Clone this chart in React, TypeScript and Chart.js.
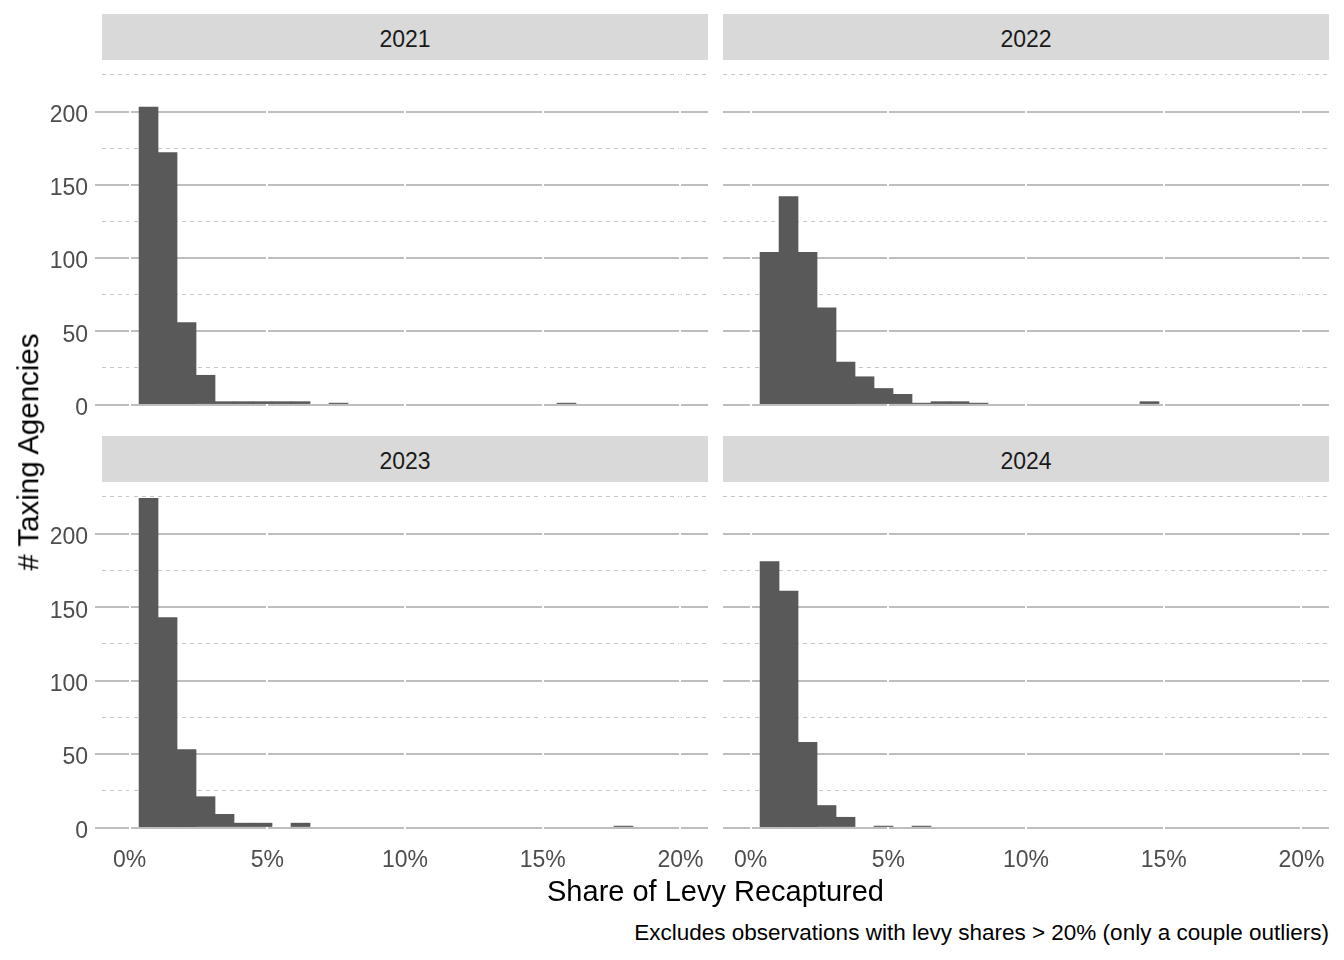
import React, { useEffect, useRef } from 'react';
import { Chart, registerables } from 'chart.js';

Chart.register(...registerables);

const FONT = '"Liberation Sans", Arial, sans-serif';
Chart.defaults.font.family = FONT;

// bin k (k = 1..28) is centred at k * BIN_WIDTH percent
const BIN_WIDTH = 20 / 29;

const YEARS = ['2021', '2022', '2023', '2024'];
const COUNTS_2021 = [203, 172, 56, 20, 2, 2, 2, 2, 2, 0, 1, 0, 0, 0, 0, 0, 0, 0, 0, 0, 0, 0, 1, 0, 0, 0, 0, 0];
const COUNTS_2022 = [104, 142, 104, 66, 29, 19, 11, 7, 1, 2, 2, 1, 0, 0, 0, 0, 0, 0, 0, 0, 2, 0, 0, 0, 0, 0, 0, 0];
const COUNTS_2023 = [224, 143, 53, 21, 9, 3, 3, 0, 3, 0, 0, 0, 0, 0, 0, 0, 0, 0, 0, 0, 0, 0, 0, 0, 0, 1, 0, 0];
const COUNTS_2024 = [181, 161, 58, 15, 7, 0, 1, 0, 1, 0, 0, 0, 0, 0, 0, 0, 0, 0, 0, 0, 0, 0, 0, 0, 0, 0, 0, 0];

const X_TICKS = [0, 5, 10, 15, 20];
const Y_TICKS = [0, 25, 50, 75, 100, 125, 150, 175, 200, 225];
const Y_LABELED = [0, 50, 100, 150, 200];

const isMajor = (c: any) => !!c.tick && Y_LABELED.includes(c.tick.value);

type PanelProps = {
  counts: number[];
  showX: boolean;
  showY: boolean;
  left: number;
  top: number;
  width: number;
  height: number;
};

const Panel = ({ counts, showX, showY, left, top, width, height }: PanelProps) => {
  const ref = useRef<HTMLCanvasElement>(null);

  useEffect(() => {
    const ctx = ref.current?.getContext('2d');
    if (!ctx) return;
    const chart = new Chart(ctx, {
      type: 'bar',
      data: {
        datasets: [{
          // empty bins stay in the data (for the bar width) but draw nothing
          data: counts.map((c, i) => ({ x: (i + 1) * BIN_WIDTH, y: c === 0 ? null : c })),
          backgroundColor: '#595959',
          borderWidth: 0,
          barPercentage: 1,
          categoryPercentage: 1,
        }],
      },
      options: {
        animation: false,
        responsive: true,
        maintainAspectRatio: false,
        layout: { padding: 0 },
        plugins: { legend: { display: false }, tooltip: { enabled: false } },
        scales: {
          x: {
            type: 'linear',
            min: -1,
            max: 21,
            offset: false,
            afterBuildTicks: (s: any) => { s.ticks = X_TICKS.map(v => ({ value: v })); },
            afterFit: (s: any) => { s.height = showX ? 36 : 0; s.paddingLeft = 0; s.paddingRight = 0; },
            // white lines on top of the y grid, below the bars
            grid: { color: '#FFFFFF', lineWidth: 2, drawTicks: false, offset: false, z: 0 },
            border: { display: false },
            ticks: {
              display: showX,
              padding: 3,
              color: '#4D4D4D',
              font: { size: 23 },
              autoSkip: false,
              maxRotation: 0,
              callback: (v: any) => `${v}%`,
            },
          },
          y: {
            min: -11.2,
            max: 235.2,
            afterBuildTicks: (s: any) => { s.ticks = Y_TICKS.map(v => ({ value: v })); },
            afterFit: (s: any) => { s.width = showY ? 72 : 0; s.paddingTop = 0; s.paddingBottom = 0; },
            grid: {
              z: -1,
              color: (c: any) => (isMajor(c) ? '#BEBEBE' : '#C6C6C6'),
              lineWidth: (c: any) => (isMajor(c) ? 2 : 1),
              drawTicks: showY,
              tickLength: 7,
              tickWidth: 2,
              tickColor: (c: any) => (isMajor(c) ? '#BEBEBE' : 'rgba(0,0,0,0)'),
            },
            border: { display: false, dash: (c: any) => (isMajor(c) ? [] : [4, 4]) },
            ticks: {
              display: showY,
              padding: 7,
              color: '#4D4D4D',
              font: { size: 23, lineHeight: 0.35 },
              autoSkip: false,
              // empty first line nudges the label a little below its grid line
              callback: (v: any) => (Y_LABELED.includes(v) ? ['', String(v)] : ''),
            },
          },
        },
      } as any,
    });
    return () => chart.destroy();
  }, [counts, showX, showY]);

  return (
    <div style={{ position: 'absolute', left, top, width, height }}>
      <canvas ref={ref} />
    </div>
  );
};

const Strip = ({ label, left, top }: { label: string; left: number; top: number }) => (
  <div style={{
    position: 'absolute', left, top, width: 606, height: 46, background: '#D9D9D9',
    boxSizing: 'border-box', paddingTop: 4, textAlign: 'center',
    fontSize: 23, color: '#1A1A1A', lineHeight: '42px',
  }}>{label}</div>
);

const App = () => {
  return (
    <div style={{
      position: 'absolute', left: 0, top: 0, width: 1344, height: 960,
      background: '#FFFFFF', fontFamily: FONT, overflow: 'hidden',
    }}>
      <Strip label={YEARS[0]} left={102} top={14} />
      <Strip label={YEARS[1]} left={723} top={14} />
      <Strip label={YEARS[2]} left={102} top={436} />
      <Strip label={YEARS[3]} left={723} top={436} />

      <Panel counts={COUNTS_2021} showX={false} showY left={30} top={60} width={678} height={361} />
      <Panel counts={COUNTS_2022} showX={false} showY={false} left={723} top={60} width={606} height={361} />
      <Panel counts={COUNTS_2023} showX showY left={30} top={482} width={678} height={398} />
      <Panel counts={COUNTS_2024} showX showY={false} left={723} top={482} width={606} height={398} />

      <div style={{
        position: 'absolute', left: 28, top: 452, transform: 'translate(-50%, -50%) rotate(-90deg)',
        whiteSpace: 'nowrap', fontSize: 29.5, lineHeight: 1, color: '#000000',
      }}># Taxing Agencies</div>

      <div style={{
        position: 'absolute', left: 102, width: 1227, top: 877, textAlign: 'center',
        fontSize: 29, lineHeight: 1, color: '#000000',
      }}>Share of Levy Recaptured</div>

      <div style={{
        position: 'absolute', right: 15, top: 922, whiteSpace: 'nowrap',
        fontSize: 22.5, lineHeight: 1, color: '#000000',
      }}>Excludes observations with levy shares &gt; 20% (only a couple outliers)</div>
    </div>
  );
};

export default App;
